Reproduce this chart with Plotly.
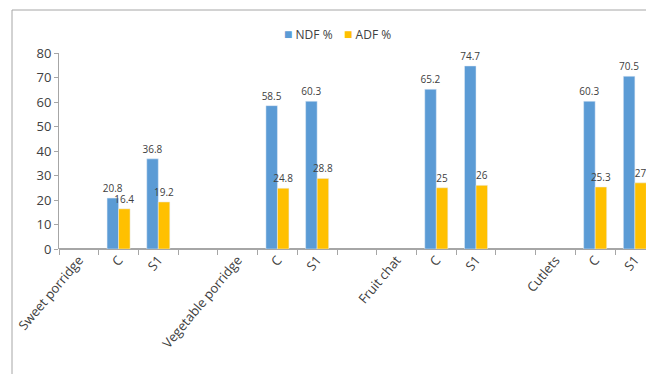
import plotly.graph_objects as go

tick_labels = ["Sweet porridge", "C", "S1", "", "Vegetable porridge", "C", "S1", "",
               "Fruit chat", "C", "S1", "", "Cutlets", "C", "S1"]
bar_positions = [1, 2, 5, 6, 9, 10, 13, 14]
ndf = [20.8, 36.8, 58.5, 60.3, 65.2, 74.7, 60.3, 70.5]
adf = [16.4, 19.2, 24.8, 28.8, 25, 26, 25.3, 27]
ndf_text = ["20.8", "36.8", "58.5", "60.3", "65.2", "74.7", "60.3", "70.5"]
adf_text = ["16.4", "19.2", "24.8", "28.8", "25", "26", "25.3", "27"]
series_names = ["NDF %", "ADF %"]
series_colors = ["#5B9BD5", "#FFC000"]

font_family = "Open Sans, Liberation Sans, sans-serif"

fig = go.Figure()
for name, vals, txt, col in [(series_names[0], ndf, ndf_text, series_colors[0]),
                             (series_names[1], adf, adf_text, series_colors[1])]:
    fig.add_trace(go.Bar(x=bar_positions, y=vals, name=name, marker_color=col,
                         text=txt, textposition="outside", cliponaxis=False,
                         constraintext="none",
                         textfont=dict(size=10, color="#404040")))

n = len(tick_labels)
fig.update_layout(
    width=646, height=374,
    margin=dict(l=59, r=0, t=53, b=125),
    paper_bgcolor="white", plot_bgcolor="white",
    font=dict(family=font_family, color="#404040"),
    barmode="group", bargap=0.42, bargroupgap=0,
    showlegend=False,
    xaxis=dict(range=[-0.5, 14.28], tickmode="array", tickvals=list(range(n)),
               ticktext=tick_labels, tickangle=-50, ticks="", showgrid=False,
               zeroline=False, showline=False,
               tickfont=dict(size=13, color="#404040"),
               minor=dict(tickmode="array", tickvals=[i - 0.5 for i in range(n + 1)],
                          ticks="outside", ticklen=5, tickcolor="#A6A6A6", showgrid=False)),
    yaxis=dict(range=[0, 80], tickmode="linear", tick0=0, dtick=10, ticks="outside",
               ticklen=4, tickcolor="#A6A6A6", showline=True, linecolor="#A6A6A6",
               showgrid=False, zeroline=True, zerolinecolor="#A6A6A6",
               tickfont=dict(size=13, color="#404040")),
)

# legend drawn as text annotations
legend_y = 1 + (53 - 33) / 196
legend_x = [(282 - 59) / 587, (342 - 59) / 587]
for name, col, lx in zip(series_names, series_colors, legend_x):
    fig.add_annotation(xref="paper", yref="paper", x=lx, y=legend_y,
                       xanchor="left", yanchor="middle", showarrow=False,
                       text=f"<span style='color:{col};font-size:14px'>■</span> {name}",
                       font=dict(size=12, color="#404040"))

# outer chart frame (partially visible)
fig.add_shape(type="line", xref="paper", yref="paper",
              x0=(12 - 59) / 587, x1=1.02, y0=1 + (53 - 10) / 196, y1=1 + (53 - 10) / 196,
              line=dict(color="#A6A6A6", width=1))
fig.add_shape(type="line", xref="paper", yref="paper",
              x0=(12 - 59) / 587, x1=(12 - 59) / 587, y0=1 + (53 - 10) / 196, y1=-1.0,
              line=dict(color="#A6A6A6", width=1))

fig.write_html("out.html")
